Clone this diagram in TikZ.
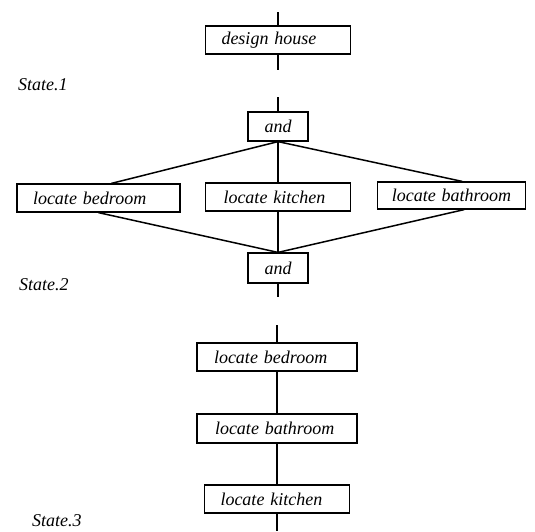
\documentclass[tikz,border=0pt]{standalone}
\usepackage{fontspec}
\setmainfont{Liberation Serif}
\usetikzlibrary{calc}
\begin{document}
\begin{tikzpicture}[x=1pt,y=1pt,
  every node/.style={font=\fontsize{18}{20}\selectfont\itshape},
  box/.style={draw, line width=1.2pt, minimum height=28pt, inner xsep=16pt, inner ysep=0pt, align=left},
  gate/.style={draw, line width=1.2pt, minimum height=29pt, minimum width=60pt, inner sep=0pt},
  link/.style={line width=1.5pt},
  tag/.style={anchor=base west, inner sep=0pt}]
\useasboundingbox (0,0) rectangle (535,-531);

% state labels
\node[tag] (s1) at (18,-90) {State.1};
\node[tag] (s2) at (19,-290) {State.2};
\node[tag] (s3) at (32,-526) {State.3};

% state 1
\node[box, text width=113pt] (dh) at (278,-40) {design house};
\coordinate (dhin) at (278,-12);
\coordinate (dhout) at (278,-70);
\draw[link] (dhin) -- (dh.north);
\draw[link] (dh.south) -- (dhout);

% state 2: parallel branch
\node[gate] (and1) at (278,-126.5) {and};
\coordinate (and1in) at (278,-97);
\node[box, text width=131pt] (bed) at (98.5,-198) {locate bedroom};
\node[box, inner xsep=18pt, text width=109pt] (kit) at (278,-197) {locate kitchen};
\node[box, inner xsep=14pt, text width=119.5pt, minimum height=27pt] (bath) at (451.5,-195.5) {locate bathroom};
\node[gate, minimum height=30pt] (and2) at (278,-268) {and};
\coordinate (and2out) at (278,-297);

\draw[link] (and1in) -- (and1.north);
\draw[link] (and1.south) -- ($(bed.north west)+(95,0)$);
\draw[link] (and1.south) -- (kit.north);
\draw[link] (and1.south) -- ($(bath.north west)+(85,0)$);
\draw[link] ($(bed.south west)+(82,0)$) -- (and2.north);
\draw[link] (kit.south) -- (and2.north);
\draw[link] ($(bath.south west)+(87,0)$) -- (and2.north);
\draw[link] (and2.south) -- (and2out);

% state 3: sequence
\coordinate (seqin) at (277,-325);
\node[box, inner xsep=17pt, text width=126pt] (bed2) at (277,-357) {locate bedroom};
\node[box, inner xsep=18pt, text width=124pt, minimum height=29pt] (bath2) at (277,-428.5) {locate bathroom};
\node[box, text width=113pt] (kit2) at (277,-499) {locate kitchen};
\coordinate (seqout) at (277,-531);

\draw[link] (seqin) -- (bed2.north);
\draw[link] (bed2.south) -- (bath2.north);
\draw[link] (bath2.south) -- (kit2.north);
\draw[link] (kit2.south) -- (seqout);
\end{tikzpicture}
\end{document}
